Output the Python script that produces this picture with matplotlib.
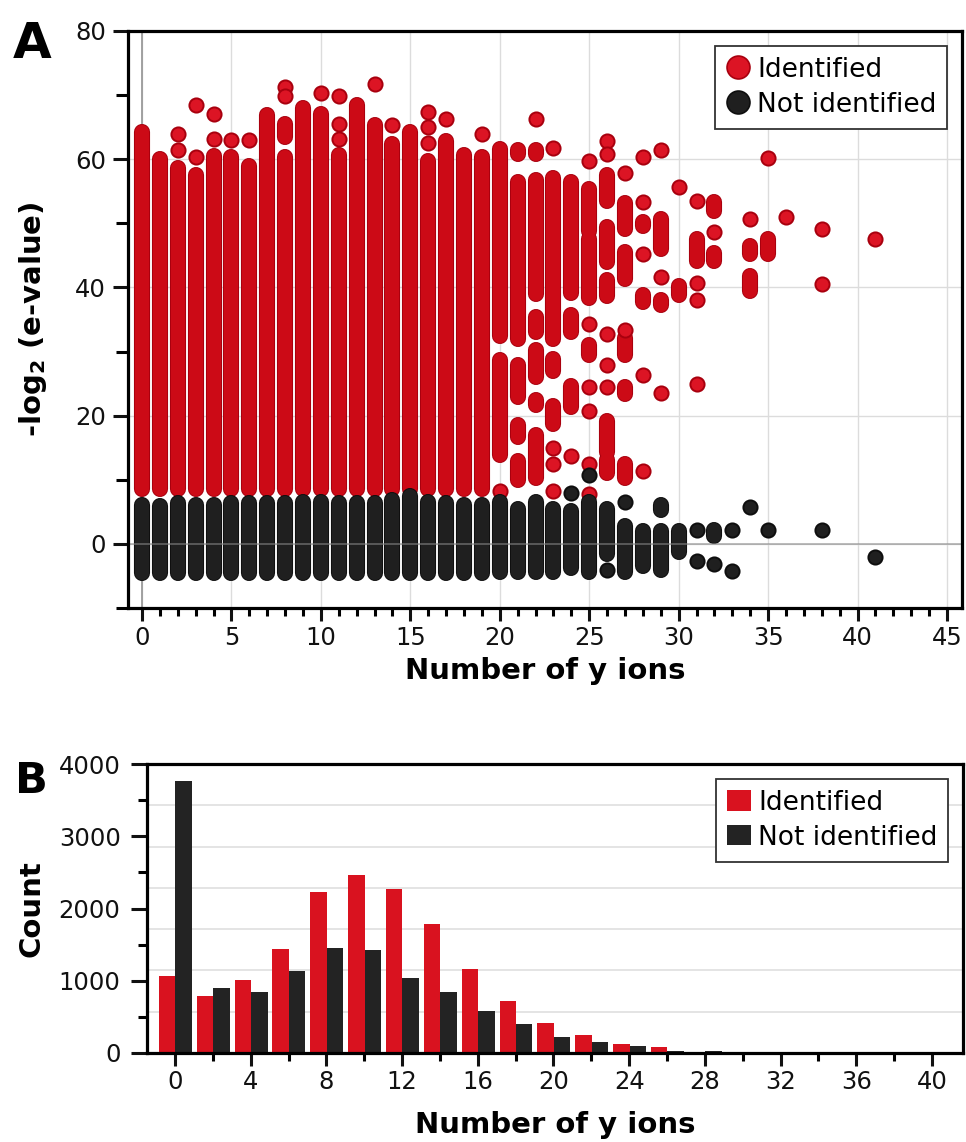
import matplotlib
matplotlib.use("Agg")
import numpy as np
import matplotlib.pyplot as plt
from matplotlib.lines import Line2D
from matplotlib.patches import Patch
from matplotlib.ticker import MultipleLocator

plt.rcParams['font.family'] = ['DejaVu Sans']

# ---------------- Panel A data: -log2(e-value) versus number of y ions ----------------
# Dense stretches of overlapping points are kept as (n_y_ions, low, high) ranges,
# isolated points as (n_y_ions, value).
identified_ranges = [
    (0, 8.5, 64.3), (1, 8.5, 60.1), (2, 8.5, 58.6), (3, 8.5, 57.5), (4, 8.5, 60.5),
    (5, 8.5, 60.4), (6, 8.5, 58.9), (7, 8.5, 66.9), (8, 8.5, 60.4), (8, 63.5, 65.5),
    (9, 8.5, 68.0), (10, 8.5, 67.1), (11, 8.5, 60.6), (12, 8.5, 68.5), (13, 8.5, 65.3),
    (14, 8.5, 62.4), (15, 8.5, 64.3), (16, 8.5, 59.7), (17, 8.5, 62.8), (18, 8.5, 60.6),
    (19, 8.5, 60.3),
    (20, 32.5, 61.6), (20, 13.8, 28.7),
    (21, 60.8, 61.4), (21, 31.9, 56.5), (21, 22.9, 27.9), (21, 16.6, 18.6), (21, 9.9, 12.9),
    (22, 60.8, 61.4), (22, 39.0, 56.7), (22, 33.0, 35.4), (22, 26.0, 30.2),
    (22, 21.6, 22.5), (22, 10.2, 17.0),
    (23, 32.0, 57.0), (23, 27.0, 28.9), (23, 18.7, 21.5),
    (24, 39.2, 56.5), (24, 33.0, 35.7), (24, 21.4, 24.6),
    (25, 48.8, 55.4), (25, 38.4, 47.5), (25, 29.5, 31.0),
    (26, 53.5, 57.5), (26, 43.9, 49.4), (26, 38.6, 41.1), (26, 14.3, 19.1), (26, 11.1, 13.1),
    (27, 49.1, 53.1), (27, 41.3, 45.6), (27, 29.4, 32.1), (27, 23.4, 24.5), (27, 10.2, 12.4),
    (28, 49.6, 50.2), (28, 37.7, 38.8),
    (29, 46.0, 50.7), (29, 37.2, 38.0),
    (30, 38.8, 40.2),
    (31, 44.2, 47.5),
    (32, 52.0, 53.3), (32, 44.2, 45.4),
    (34, 45.2, 46.5), (34, 39.5, 41.8),
    (35, 45.2, 47.6),
]
identified_points = [
    (2, 64.0), (2, 61.4), (3, 68.5), (3, 60.3), (4, 67.1), (4, 63.2), (5, 63.0), (6, 63.0),
    (8, 71.2), (8, 69.9), (10, 70.3), (11, 69.8), (11, 65.5), (11, 63.2), (13, 71.7),
    (14, 65.4), (16, 67.3), (16, 65.0), (16, 62.6), (17, 66.3), (19, 63.9),
    (20, 8.2), (22, 66.3), (23, 61.8), (23, 15.0), (23, 12.5), (23, 8.2), (24, 13.7),
    (25, 59.7), (25, 34.3), (25, 24.5), (25, 20.7), (25, 12.5), (25, 7.8),
    (26, 62.8), (26, 60.8), (26, 32.8), (26, 27.9), (26, 24.5),
    (27, 57.9), (27, 33.4),
    (28, 60.3), (28, 53.3), (28, 45.2), (28, 26.3), (28, 11.4),
    (29, 61.4), (29, 41.6), (29, 23.5),
    (30, 55.6), (31, 53.5), (31, 40.7), (31, 38.1), (31, 25.0), (32, 48.6),
    (34, 50.7), (35, 60.2), (36, 51.0), (38, 49.1), (38, 40.6), (41, 47.6),
]
not_identified_ranges = [
    (0, -4.5, 6.1), (1, -4.5, 5.9), (2, -4.5, 6.4), (3, -4.5, 6.1), (4, -4.5, 6.1),
    (5, -4.5, 6.4), (6, -4.5, 6.4), (7, -4.5, 6.4), (8, -4.5, 6.3), (9, -4.5, 6.6),
    (10, -4.5, 6.5), (11, -4.5, 6.4), (12, -4.5, 6.4), (13, -4.5, 6.4), (14, -4.5, 6.9),
    (15, -4.5, 7.4), (16, -4.5, 6.6), (17, -4.5, 6.3), (18, -4.5, 6.1), (19, -4.5, 6.1),
    (20, -4.4, 6.6), (21, -4.4, 5.4), (22, -4.4, 6.5), (23, -4.4, 5.5), (24, -3.8, 5.2),
    (25, -4.4, 6.6), (26, -1.5, 5.5), (27, -4.4, 2.8), (28, -3.5, 2.0), (29, -4.1, 2.0),
    (29, 5.3, 6.1), (30, -1.2, 2.0), (32, 1.3, 2.1),
]
not_identified_points = [
    (24, 8.0), (25, 10.7), (26, -4.0), (27, 6.5), (31, 2.1), (31, -2.6), (32, -3.1),
    (33, 2.1), (33, -4.3), (34, 5.7), (35, 2.1), (38, 2.1), (41, -2.0),
]

# ---------------- Panel B data: histogram of y-ion counts ----------------
bin_starts = [0, 2, 4, 6, 8, 10, 12, 14, 16, 18, 20, 22, 24, 26, 28, 30, 32, 34, 36, 38, 40]
identified_counts = [1060, 783, 1014, 1438, 2226, 2470, 2272, 1783, 1161, 725, 411,
                     249, 125, 88, 18, 6, 3, 2, 1, 1, 1]
not_identified_counts = [3770, 899, 843, 1134, 1452, 1424, 1032, 843, 587, 402, 226,
                         148, 97, 32, 30, 4, 3, 1, 1, 0, 0]

RED_FILL = '#cc0a16'
RED_EDGE = '#a8000e'
RED_DOT = '#dc1424'
BLACK_FILL = '#1f1f1f'
BLACK_EDGE = '#0e0e0e'
BAR_RED = '#d9121f'
BAR_BLACK = '#232323'
DOT_PT = 10.6

fig = plt.figure(figsize=(9.66, 11.42), dpi=100)
axA = fig.add_axes([128 / 966, 1 - 608 / 1142, 834 / 966, 577 / 1142])
axB = fig.add_axes([147 / 966, 1 - 1053 / 1142, 816 / 966, 289 / 1142])


def draw_ranges(ax, ranges, face, edge, z):
    xs = [r[0] for r in ranges]
    lo = [r[1] for r in ranges]
    hi = [r[2] for r in ranges]
    ax.vlines(xs, lo, hi, colors=edge, linewidth=DOT_PT + 1.0,
              capstyle='round', zorder=z)
    ax.vlines(xs, lo, hi, colors=face, linewidth=DOT_PT - 0.4,
              capstyle='round', zorder=z + 0.1)


def draw_points(ax, pts, face, edge, z):
    ax.scatter([p[0] for p in pts], [p[1] for p in pts], s=(DOT_PT - 0.4) ** 2,
               c=face, edgecolors=edge, linewidths=1.4, zorder=z)


legend_style = dict(loc='upper right', fontsize=19, frameon=True, fancybox=False,
                    framealpha=1, edgecolor='#333333', borderpad=0.42,
                    labelspacing=0.34, handlelength=0.9, handletextpad=0.27,
                    borderaxespad=0.55)

# ---------------- Panel A ----------------
axA.set_xlim(-0.78, 45.84)
axA.set_ylim(-10, 80)
axA.set_axisbelow(True)
axA.grid(True, which='major', color='#dcdcdc', linewidth=1.0, zorder=0)
axA.axvline(0, color='#9a9a9a', linewidth=1.3, zorder=1)

draw_ranges(axA, identified_ranges, RED_FILL, RED_EDGE, 2)
draw_points(axA, identified_points, RED_DOT, RED_EDGE, 2.5)
draw_ranges(axA, not_identified_ranges, BLACK_FILL, BLACK_EDGE, 3)
draw_points(axA, not_identified_points, BLACK_FILL, BLACK_EDGE, 3.5)
axA.axhline(0, color='#888888', linewidth=1.1, alpha=0.7, zorder=4)

axA.xaxis.set_major_locator(MultipleLocator(5))
axA.xaxis.set_minor_locator(MultipleLocator(1))
axA.yaxis.set_major_locator(MultipleLocator(20))
axA.yaxis.set_minor_locator(MultipleLocator(10))
axA.tick_params(axis='y', which='major', direction='out', length=10.8, width=2.2,
                labelsize=17.5, pad=5, colors='#111111')
axA.tick_params(axis='y', which='minor', direction='out', length=8.6, width=2.2)
axA.tick_params(axis='x', which='major', direction='out', length=9.4, width=2.2,
                labelsize=17.5, pad=3.5, colors='#111111')
axA.tick_params(axis='x', which='minor', direction='out', length=5.8, width=2.2)
for sp in axA.spines.values():
    sp.set_linewidth(2.3)
    sp.set_zorder(6)

axA.set_xlabel('Number of y ions', fontsize=21, fontweight='bold')
axA.xaxis.set_label_coords(0.5, -0.085)
axA.set_ylabel('-log$_\\mathbf{2}$ (e-value)', fontsize=21, fontweight='bold')
axA.yaxis.label.set_va('center')
axA.yaxis.set_label_coords(-0.114, 0.5)

legA = axA.legend(
    handles=[Line2D([], [], ls='', marker='o', markersize=16.5, markerfacecolor=RED_DOT,
                    markeredgecolor=RED_EDGE, markeredgewidth=1.2, label='Identified'),
             Line2D([], [], ls='', marker='o', markersize=16.5, markerfacecolor=BLACK_FILL,
                    markeredgecolor=BLACK_EDGE, markeredgewidth=1.2, label='Not identified')],
    **legend_style)
legA.get_frame().set_linewidth(1.3)
legA.set_zorder(10)

# ---------------- Panel B ----------------
bins = np.array(bin_starts, dtype=float)
axB.set_axisbelow(True)
for k in range(1, 7):
    axB.axhline(k * 4000 / 7, color='#e2e2e2', linewidth=1.3, zorder=0)
axB.bar(bins - 0.85, identified_counts, width=0.87, align='edge', color=BAR_RED,
        edgecolor='none', zorder=2)
axB.bar(bins + 0.02, not_identified_counts, width=0.87, align='edge', color=BAR_BLACK,
        edgecolor='none', zorder=2)
axB.set_xlim(-1.48, 41.64)
axB.set_ylim(0, 4000)
axB.xaxis.set_major_locator(MultipleLocator(4))
axB.xaxis.set_minor_locator(MultipleLocator(2))
axB.yaxis.set_major_locator(MultipleLocator(1000))
axB.yaxis.set_minor_locator(MultipleLocator(500))
axB.tick_params(axis='y', which='major', direction='out', length=11.5, width=2.2,
                labelsize=17.5, pad=7.5, colors='#111111')
axB.tick_params(axis='y', which='minor', direction='out', length=6.5, width=2.2)
axB.tick_params(axis='x', which='major', direction='out', length=9.4, width=2.2,
                labelsize=17.5, pad=3, colors='#111111')
axB.tick_params(axis='x', which='minor', direction='out', length=5.8, width=2.2)
for sp in axB.spines.values():
    sp.set_linewidth(2.3)
    sp.set_zorder(6)

axB.set_xlabel('Number of y ions', fontsize=21, fontweight='bold')
axB.xaxis.set_label_coords(0.5, -0.2)
axB.set_ylabel('Count', fontsize=21, fontweight='bold')
axB.yaxis.label.set_va('center')
axB.yaxis.set_label_coords(-0.141, 0.5)

legB = axB.legend(
    handles=[Patch(facecolor=BAR_RED, edgecolor='none', label='Identified'),
             Patch(facecolor=BAR_BLACK, edgecolor='none', label='Not identified')],
    handleheight=0.8, **legend_style)
legB.get_frame().set_linewidth(1.3)

fig.text(13 / 966, 1 - 58 / 1142, 'A', fontsize=36, fontweight='heavy', va='baseline')
fig.text(15 / 966, 1 - 793 / 1142, 'B', fontsize=31, fontweight='heavy', va='baseline')

fig.savefig('out.png', dpi=100, facecolor='white')
